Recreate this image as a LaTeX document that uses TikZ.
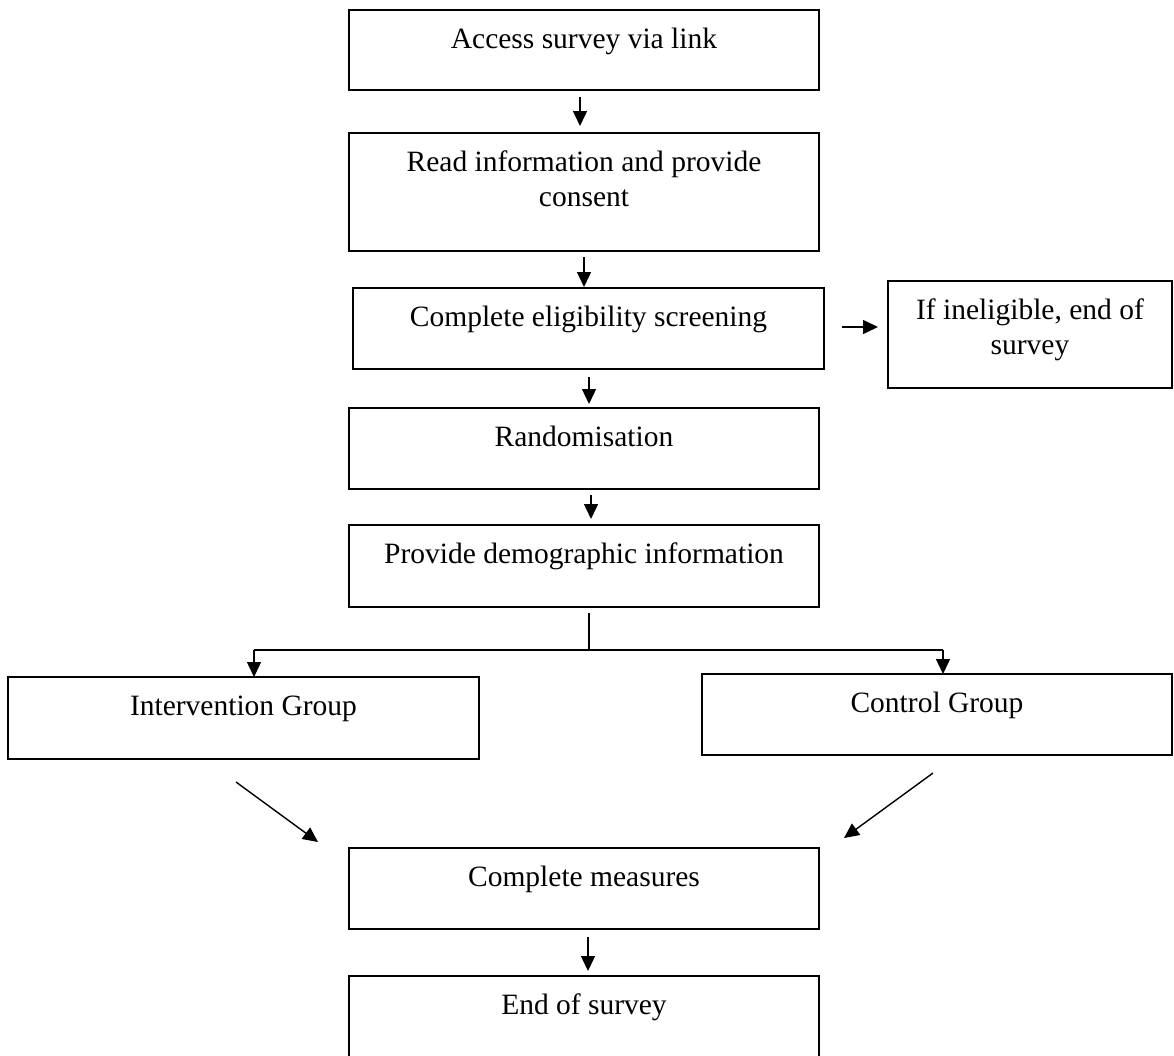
\documentclass[tikz,border=0pt]{standalone}
\usepackage{fontspec}
\setmainfont{Liberation Serif}
\usetikzlibrary{arrows.meta}
\newcommand{\bt}[3]{\parbox[t][#2pt][t]{#1pt}{\centering\rule{0pt}{38pt}#3}}
\begin{document}
\begin{tikzpicture}[x=1pt,y=-1pt,
  box/.style={draw, line width=2.6pt, inner sep=0pt, outer sep=0pt, anchor=north west,
              font=\fontsize{29.5}{35}\selectfont},
  arr/.style={-{Triangle[length=15pt,width=14pt]}, line width=1.4pt},
  ln/.style={line width=1.4pt},
  bar/.style={line width=2.6pt}]
\useasboundingbox (0,0) rectangle (1174,1055);

\node[box] (n1) at (349,10)  {\bt{470}{80}{Access survey via link}};
\node[box] (n2) at (349,133) {\bt{470}{118}{Read information and provide\\consent}};
\node[box] (n3) at (353,288) {\bt{471}{81}{Complete eligibility screening}};
\node[box] (n4) at (888,281) {\bt{284}{107}{If ineligible, end of\\survey}};
\node[box] (n5) at (349,408) {\bt{470}{81}{Randomisation}};
\node[box] (n6) at (349,525) {\bt{470}{82}{Provide demographic information}};
\node[box] (n7) at (8,677)   {\bt{471}{82}{Intervention Group}};
\node[box] (n8) at (702,674) {\bt{470}{81}{Control Group}};
\node[box] (n9) at (349,848) {\bt{470}{81}{Complete measures}};
\node[box] (n10) at (349,976) {\bt{470}{90}{End of survey}};

\draw[arr] ([shift={(-4,7)}]n1.south) -- ([shift={(-4,-7)}]n2.north);
\draw[arr] ([shift={(0,6)}]n2.south) -- ([shift={(-4.5,-1)}]n3.north);
\draw[arr] ([shift={(18,-1.5)}]n3.east) -- ([shift={(-10,-7.5)}]n4.west);
\draw[arr] ([shift={(0.5,8)}]n3.south) -- ([shift={(5,-4)}]n5.north);
\draw[arr] ([shift={(7,6)}]n5.south) -- ([shift={(7,-6)}]n6.north);

\coordinate (sp) at (589,650);
\coordinate (bl) at (254,650);
\coordinate (br) at (943,650);
\draw[ln] ([shift={(5,6)}]n6.south) -- (sp);
\draw[bar] (bl) -- (br);
\draw[arr] (bl) -- (bl |- n7.north);
\draw[arr] (br) -- (br |- n8.north);

\draw[arr] ([shift={(-7.5,23)}]n7.south) -- ([shift={(-266,-6)}]n9.north);
\draw[arr] ([shift={(-4,18)}]n8.south) -- ([shift={(260,-10)}]n9.north);
\draw[arr] ([shift={(4,8)}]n9.south) -- ([shift={(4,-5)}]n10.north);
\end{tikzpicture}
\end{document}
